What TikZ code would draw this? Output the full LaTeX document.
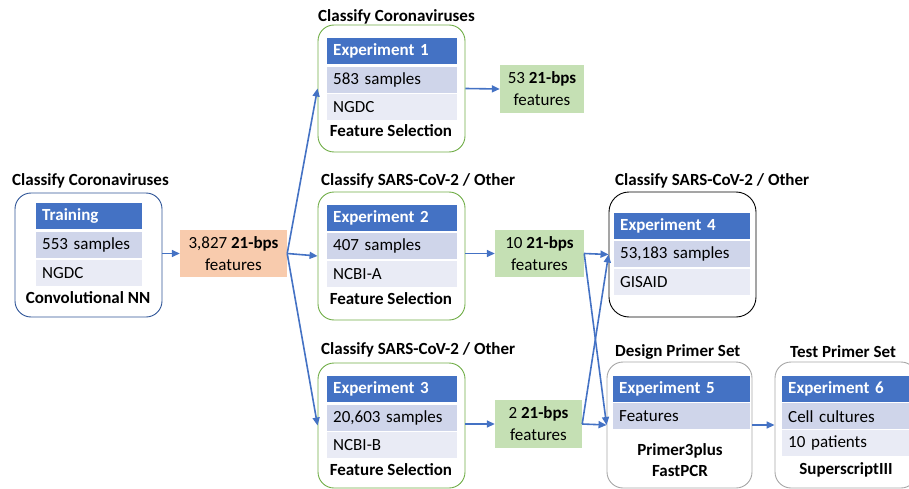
\documentclass[tikz,border=0pt]{standalone}
\usepackage{fontspec}
\setmainfont{Carlito}
\usetikzlibrary{arrows.meta}
\definecolor{hdrblue}{HTML}{4472C4}
\definecolor{rowdark}{HTML}{CFD5EA}
\definecolor{rowlight}{HTML}{E9EBF5}
\definecolor{featorange}{HTML}{F8CBAD}
\definecolor{featgreen}{HTML}{C5E0B4}
\definecolor{edgegreen}{HTML}{70AD47}
\definecolor{edgenavy}{HTML}{2F5597}
\definecolor{edgegray}{HTML}{A6A6A6}
\tikzset{
  panel/.style={rounded corners=16, line width=0.9, inner sep=0},
  cell/.style={anchor=north west, inner xsep=6, inner ysep=0, minimum height=26, align=left},
  hdr/.style={cell, fill=hdrblue, text=white, font=\fontsize{17}{20}\selectfont\bfseries},
  rowa/.style={cell, fill=rowdark},
  rowb/.style={cell, fill=rowlight},
  feat/.style={inner sep=0, align=center, font=\fontsize{17}{22}\selectfont},
  caption/.style={font=\fontsize{17}{21}\selectfont\bfseries, align=center},
  heading/.style={anchor=west, inner sep=0, font=\fontsize{17}{20}\selectfont\bfseries},
  flow/.style={->, draw=hdrblue, line width=1.6}
}
\begin{document}
\begin{tikzpicture}[x=1pt, y=-1pt, font=\fontsize{17}{20}\selectfont, line join=round,
    >={Stealth[length=8pt, width=7pt, inset=0pt]}]
\useasboundingbox (0,0) rectangle (909,489);
% outer frames
\node[panel, draw=edgenavy, minimum width=147, minimum height=124] (train) at (88.5,255) {};
\node[panel, draw=edgegreen, minimum width=147, minimum height=127] (exp1) at (391.5,88.5) {};
\node[panel, draw=edgegreen, minimum width=147, minimum height=128] (exp2) at (391.5,256) {};
\node[panel, draw=edgegreen, minimum width=147, minimum height=125] (exp3) at (391.5,425.5) {};
\node[panel, rounded corners=20, draw=black, minimum width=147, minimum height=125] (exp4) at (682.5,254.5) {};
\node[panel, draw=edgegray, minimum width=145, minimum height=126] (exp5) at (679.5,425) {};
\node[panel, draw=edgegray, minimum width=142, minimum height=126] (exp6) at (846,425) {};
% headings
\foreach \n/\x/\y/\t in {h0/12/181/Classify Coronaviruses, h1/318/17/Classify Coronaviruses,
    h2/321/181/{Classify SARS-CoV-2 / Other}, h3/321/350/{Classify SARS-CoV-2 / Other},
    h4/615/181/{Classify SARS-CoV-2 / Other}, h5/615/352/Design Primer Set, h6/790/352/Test Primer Set}
  \node[heading] (\n) at (\x,\y) {\t};
% table rows
\foreach \n/\x/\y/\w/\s/\t in {
    t0/36/203/94/hdr/Training, t1/36/232/94/rowa/553 samples, t2/36/260/94/rowb/NGDC,
    a0/327/38/118/hdr/Experiment 1, a1/327/67/118/rowa/583 samples, a2/327/94/118/rowb/NGDC,
    b0/327/205/118/hdr/Experiment 2, b1/327/233/118/rowa/407 samples, b2/327/261/118/rowb/NCBI-A,
    c0/327/376/118/hdr/Experiment 3, c1/327/405/118/rowa/{20,603 samples}, c2/327/432/118/rowb/NCBI-B,
    d0/614/213/124/hdr/Experiment 4, d1/614/241/124/rowa/{53,183 samples}, d2/614/269/124/rowb/GISAID,
    e0/613/376/125/hdr/Experiment 5, e1/613/403/125/rowa/Features,
    g0/782/376/125/hdr/Experiment 6, g1/782/403/125/rowa/Cell cultures, g2/782/430/125/rowb/10 patients}
  \node[\s, text width=\w] (\n) at (\x,\y) {\t};
% captions
\node[caption] (c-train) at (88,298) {Convolutional NN};
\node[caption] (c-exp1) at (391,131) {Feature Selection};
\node[caption] (c-exp2) at (391,299) {Feature Selection};
\node[caption] (c-exp3) at (391,470) {Feature Selection};
\node[caption] (c-exp5) at (680,460) {Primer3plus\\FastPCR};
\node[caption] (c-exp6) at (846,470) {SuperscriptIII};
% feature sets
\node[feat, fill=featorange, minimum width=107, minimum height=47] (f0) at (233.5,253.5) {3,827 \textbf{21-bps}\\features};
\node[feat, fill=featgreen, minimum width=84, minimum height=48] (f1) at (542,89) {53 \textbf{21-bps}\\features};
\node[feat, fill=featgreen, minimum width=89, minimum height=47] (f2) at (539.5,253.5) {10 \textbf{21-bps}\\features};
\node[feat, fill=featgreen, minimum width=87, minimum height=48] (f3) at (538.5,424) {2 \textbf{21-bps}\\features};
% connectors
\draw[flow] (f0.west -| train.east) -- (f0.west);
\foreach \e in {exp1,exp2,exp3} \draw[flow] (f0.east) -- (\e.west);
\draw[flow] (exp1.east) -- (f1.west);
\draw[flow] (f2.west -| exp2.east) -- (f2.west);
\draw[flow] (f3.west -| exp3.east) -- (f3.west);
\foreach \f in {f2,f3} \foreach \e in {exp4,exp5} \draw[flow] (\f.east) -- (\e.west);
\draw[flow] (exp5.east) -- (exp6.west);
\end{tikzpicture}
\end{document}
